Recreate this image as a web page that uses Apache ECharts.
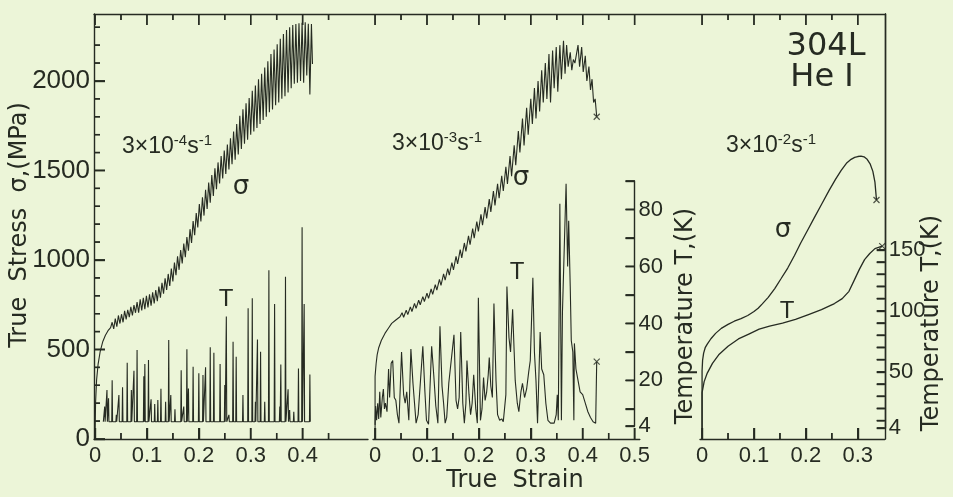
<!DOCTYPE html>
<html><head><meta charset="utf-8">
<script src="https://cdn.jsdelivr.net/npm/echarts@6/dist/echarts.min.js"></script>
<style>html,body{margin:0;padding:0;background:#ecf5d8;}#c{width:953px;height:497px;}</style>
</head><body><div id="c"></div>
<script>
// ---------- DATA ----------
const sigma1 = [[0,0],[0.001,200],[0.003,330],[0.006,420],[0.01,490],[0.015,545],[0.02,580],[0.025,605],[0.03,622],
[0.033,652],[0.036,615],[0.039,672],[0.042,628],[0.045,690],[0.048,645],[0.051,697],[0.054,652],[0.057,716],[0.060,668],
[0.063,722],[0.066,681],[0.069,738],[0.072,690],[0.075,748],[0.078,705],[0.081,765],[0.084,705],[0.087,780],[0.090,718],
[0.093,788],[0.096,725],[0.099,800],[0.102,735],[0.105,808],[0.108,745],[0.111,820],[0.114,757],[0.117,832],[0.120,770],
[0.123,852],[0.126,790],[0.129,872],[0.132,812],[0.135,898],[0.138,833],[0.141,922],[0.144,855],[0.147,952],[0.150,880],
[0.153,985],[0.156,915],[0.159,1020],[0.162,945],[0.165,1055],[0.168,980],[0.171,1092],[0.174,1015],[0.177,1128],[0.180,1052],
[0.183,1172],[0.186,1095],[0.189,1218],[0.192,1138],[0.195,1262],[0.198,1182],[0.201,1312],[0.204,1215],[0.207,1350],[0.210,1248],
[0.213,1392],[0.216,1285],[0.219,1432],[0.222,1320],[0.225,1475],[0.228,1358],[0.231,1512],[0.234,1395],[0.237,1545],[0.240,1428],
[0.243,1580],[0.246,1455],[0.249,1612],[0.252,1480],[0.255,1645],[0.258,1505],[0.261,1680],[0.264,1535],[0.267,1718],[0.270,1560],
[0.273,1760],[0.276,1590],[0.279,1805],[0.282,1620],[0.285,1842],[0.288,1650],[0.291,1875],[0.294,1672],[0.297,1905],[0.300,1700],
[0.303,1945],[0.306,1718],[0.309,1975],[0.312,1738],[0.315,2010],[0.318,1760],[0.321,2040],[0.324,1782],[0.327,2075],[0.330,1800],
[0.333,2110],[0.336,1825],[0.339,2150],[0.342,1840],[0.345,2175],[0.348,1865],[0.351,2205],[0.354,1880],[0.357,2235],[0.360,1900],
[0.363,2262],[0.366,1915],[0.369,2285],[0.372,1935],[0.375,2300],[0.378,1960],[0.381,2312],[0.384,1985],[0.387,2318],[0.390,1990],
[0.393,2322],[0.396,2000],[0.399,2325],[0.402,1990],[0.405,2328],[0.408,2030],[0.411,2320],[0.414,1925],[0.417,2318],[0.419,2095]];

const t1Strain = [0.0186,0.023,0.026,0.033,0.041,0.046,0.053,0.062,0.070,0.075,0.081,0.094,0.096,0.103,0.108,0.115,0.121,0.127,0.136,0.142,0.146,0.154,0.166,0.171,0.177,0.180,0.189,0.200,0.208,0.213,0.222,0.229,0.241,0.250,0.253,0.258,0.266,0.272,0.285,0.295,0.303,0.309,0.313,0.319,0.327,0.335,0.346,0.356,0.358,0.367,0.372,0.375,0.383,0.392,0.399,0.403,0.414];
const t1Peak = [10.8,16.6,13.7,20.1,7.9,14.9,17.6,26.2,16.6,23.4,30.7,21.5,25.8,27.2,13.4,11.7,13.1,17.1,12.5,34.2,14.9,9.9,23.6,10.8,30.9,17.2,24.8,22.5,21.9,24.6,31.6,29.7,25.8,18.4,42.4,7.9,33.6,28.3,14.9,45.3,48.8,12.5,34.4,30.1,12.5,58.7,46.8,10.8,25.6,56.4,16.9,9.6,9.0,24.2,73.8,46.8,22.1];
const t1Base = 5.5;
const t1Range = [0.016, 0.416];

const sigma2 = [[0,0],[0,350],[0.002,420],[0.004,470],[0.007,510],[0.012,550],[0.019,590],[0.026,620],[0.032,646],[0.04,665],[0.048,683],
[0.052,705],[0.055,680],[0.060,720],[0.063,695],[0.068,738],[0.071,712],[0.076,758],[0.079,730],[0.084,775],[0.087,750],
[0.092,795],[0.095,768],[0.100,815],[0.103,786],[0.108,838],[0.111,808],[0.116,862],[0.119,832],[0.124,892],[0.127,858],
[0.132,922],[0.135,888],[0.140,952],[0.143,915],[0.148,985],[0.151,945],[0.156,1020],[0.159,978],[0.164,1058],[0.167,1012],
[0.172,1095],[0.175,1048],[0.180,1135],[0.183,1085],[0.188,1175],[0.191,1122],[0.196,1215],[0.199,1160],[0.204,1255],[0.207,1195],
[0.212,1295],[0.215,1232],[0.220,1340],[0.223,1268],[0.228,1385],[0.231,1305],[0.236,1425],[0.239,1345],[0.244,1470],[0.247,1385],
[0.252,1520],[0.255,1425],[0.260,1580],[0.263,1468],[0.268,1640],[0.271,1530],[0.276,1720],[0.279,1600],[0.284,1790],[0.287,1640],
[0.292,1850],[0.295,1700],[0.300,1900],[0.303,1760],[0.307,1960],[0.310,1790],[0.314,2000],[0.317,1830],[0.321,2060],[0.324,1880],
[0.328,2100],[0.331,1900],[0.335,2150],[0.338,1880],[0.342,2170],[0.345,1960],[0.349,2190],[0.352,1940],[0.356,2200],[0.359,2010],
[0.363,2225],[0.366,2040],[0.369,2200],[0.372,2080],[0.376,2160],[0.379,2060],[0.382,2120],[0.385,2100],[0.388,2110],[0.391,2200],
[0.394,2080],[0.398,2190],[0.401,2050],[0.405,2140],[0.408,2000],[0.412,2080],[0.415,1950],[0.418,2010],[0.421,1880],[0.424,1900],[0.427,1800]];

const temp2 = [[0,4.4],[0.001,11],[0.003,6],[0.005,12],[0.007,6.5],[0.009,16],[0.011,7],[0.014,14],[0.016,17],[0.018,10],[0.02,12],[0.023,9],
[0.026,24],[0.028,14],[0.031,26],[0.034,27],[0.037,14],[0.040,13],[0.043,8],[0.046,5],
[0.051,30],[0.055,15],[0.058,12],[0.061,16],[0.065,6],[0.069,31],[0.073,19],[0.076,12],[0.079,5],[0.083,8],
[0.092,32],[0.096,16],[0.099,6],[0.103,4.6],[0.109,32],[0.113,22],[0.117,11],[0.121,5],
[0.125,39],[0.129,18],[0.132,12],[0.135,5],[0.138,7],[0.142,19],[0.152,36],[0.156,13],[0.159,10],[0.162,14],
[0.165,37],[0.169,12],[0.172,5],[0.175,12],[0.177,27],[0.181,15],[0.184,8],[0.187,12],[0.19,22],[0.194,10],[0.197,5],
[0.199,49],[0.203,6],[0.206,10],[0.209,21],[0.212,13],[0.215,16],[0.218,22],[0.22,28],[0.223,18],[0.226,14],
[0.229,47],[0.233,20],[0.236,8],[0.24,6],[0.244,6.5],[0.247,5.5],[0.25,6],[0.252,15],
[0.254,53],[0.258,35],[0.261,30],[0.265,45],[0.268,30],[0.270,20],[0.274,12],[0.277,9],[0.281,16],[0.284,19],[0.288,14],[0.292,17],[0.296,23],[0.299,27],
[0.304,56],[0.307,30],[0.31,20],[0.313,5],[0.318,37],[0.321,24],[0.325,22],[0.329,12],[0.333,6],[0.338,5],[0.345,5],[0.349,8],[0.351,15],[0.353,6],
[0.356,82],[0.359,6],[0.361,44],[0.365,70],[0.368,89],[0.371,60],[0.373,76],[0.376,53],[0.378,34],[0.381,30],[0.383,6],[0.384,33],
[0.387,24],[0.391,20],[0.395,16],[0.40,15],[0.405,12],[0.41,9],[0.415,7],[0.42,5.5],[0.425,5],[0.427,26.6]];

const sigma3 = [[0,0],[0,380],[0.001,440],[0.003,480],[0.006,510],[0.01,530],[0.017,560],[0.026,590],[0.037,618],[0.05,640],[0.062,658],
[0.075,672],[0.088,690],[0.1,712],[0.108,730],[0.116,755],[0.127,790],[0.14,840],[0.152,895],[0.165,955],[0.178,1025],[0.19,1095],
[0.203,1165],[0.216,1235],[0.23,1310],[0.245,1390],[0.257,1450],[0.268,1500],[0.278,1540],[0.287,1562],[0.294,1573],[0.3,1578],
[0.306,1580],[0.312,1576],[0.318,1562],[0.324,1535],[0.329,1495],[0.333,1435],[0.336,1335]];
const temp3 = [[0,4],[0,33],[0.004,42],[0.01,49],[0.02,57],[0.032,64],[0.05,71],[0.07,77],[0.09,81],[0.11,85],[0.13,87.5],[0.155,90],
[0.18,93],[0.205,97],[0.23,101],[0.255,106],[0.27,110],[0.283,116],[0.293,125],[0.303,134],[0.313,142],[0.323,147],[0.333,151],[0.34,152],[0.347,153]];

const strainLong1 = [0,0.1,0.2,0.3,0.4], strainShort1 = [0.05,0.15,0.25,0.35,0.45];
const strainLong2 = [0,0.1,0.2,0.3,0.4,0.5], strainShort2 = [0.05,0.15,0.25,0.35,0.45];
const strainLong3 = [0,0.1,0.2,0.3], strainShort3 = [0.05,0.15,0.25];
const stressLabels = [0,500,1000,1500,2000];
const stressMinor = [100,200,300,400,600,700,800,900,1100,1200,1300,1400,1600,1700,1800,1900,2100,2200,2300];
const temp2Ticks = [4,10,20,30,40,50,60,70,80,90], temp2Labels = [4,20,40,60,80];
const temp3Ticks = [4,10,20,30,40,50,60,70,80,90,100,110,120,130,140,150], temp3Labels = [4,50,100,150];

// ---------- CHART ----------
const INK = '#262b22';
const LF = 'Liberation Sans', DF = 'DejaVu Sans';
const t1Data = [[t1Range[0], t1Base]];
t1Strain.forEach((s, i) => { t1Data.push([s - 0.0008, t1Base], [s, t1Peak[i]], [s + 0.0008, t1Base]); });
t1Data.push([t1Range[1], t1Base]);

const line = { color: INK, width: 1.4 };
const plain = v => String(v);
const S_MAX = 2374;
const P1 = [-0.002, 0.526], P2 = [-0.004, 0.51], P2T = [-0.004, 0.5], P3 = [-0.004, 0.352];
const GRIDS = [
  [94, 14, 790.8, 425], [94, 14, 274, 425], [94, 181, 274, 245], [373, 14, 266.8, 425],
  [373, 181, 261.6, 245], [700, 14, 184.8, 425], [700, 14, 184.8, 414]
];
const tk = (len, vals) => ({ show: true, inside: true, length: len, customValues: vals, lineStyle: line });

function xMain(grid, ext, labV) {
  return { type: 'value', gridIndex: grid, min: ext[0], max: ext[1], position: 'bottom', splitLine: { show: false },
    axisLine: { show: true, onZero: false, lineStyle: line }, axisTick: tk(11, labV),
    axisLabel: { show: true, customValues: labV, margin: 6, color: INK, fontSize: 22, fontFamily: LF,
      formatter: v => (v === 0 ? '0' : String(v)) } };
}
const hiddenX = (grid, ext) => ({ type: 'value', gridIndex: grid, min: ext[0], max: ext[1], show: false });
const hiddenY = (grid, min, max) => ({ type: 'value', gridIndex: grid, min, max, show: false });
const G = g => ({ left: g[0], top: g[1], width: g[2], height: g[3], containLabel: false, outerBoundsMode: 'none' });

const xAxis = [
  { type: 'value', gridIndex: 0, position: 'top', min: 0, max: 1, axisLine: { show: true, onZero: false, lineStyle: line },
    axisTick: { show: false }, axisLabel: { show: false }, splitLine: { show: false } },
  xMain(1, P1, strainLong1), hiddenX(2, P1), xMain(3, P2, strainLong2), hiddenX(4, P2T), xMain(5, P3, strainLong3), hiddenX(6, P3)
];
const yAxis = [
  { type: 'value', gridIndex: 0, position: 'right', min: 0, max: 1, axisLine: { show: true, onZero: false, lineStyle: line },
    axisTick: { show: false }, axisLabel: { show: false }, splitLine: { show: false } },
  { type: 'value', gridIndex: 1, position: 'left', min: 0, max: S_MAX, splitLine: { show: false },
    axisLine: { show: true, onZero: false, lineStyle: line }, axisTick: tk(11, stressLabels),
    axisLabel: { show: true, customValues: stressLabels, margin: 4, color: INK, fontSize: 26, fontFamily: LF, formatter: plain } },
  hiddenY(2, 4, 90),
  hiddenY(3, 0, S_MAX),
  { type: 'value', gridIndex: 4, position: 'right', min: 4, max: 90, splitLine: { show: false },
    axisLine: { show: true, onZero: false, lineStyle: line }, axisTick: tk(9, temp2Ticks),
    axisLabel: { show: true, customValues: temp2Labels, margin: 4, color: INK, fontSize: 22, fontFamily: LF, formatter: plain } },
  hiddenY(5, 0, S_MAX),
  { type: 'value', gridIndex: 6, position: 'right', min: 4, max: 343.3, splitLine: { show: false },
    axisLine: { show: true, onZero: false, lineStyle: line }, axisTick: tk(8, temp3Ticks),
    axisLabel: { show: true, customValues: temp3Labels, margin: 4, color: INK, fontSize: 22, fontFamily: LF, formatter: plain } }
];

const ln = (data, xi, yi, w) => ({ type: 'line', data, xAxisIndex: xi, yAxisIndex: yi, showSymbol: false, symbol: 'none',
  lineStyle: { color: INK, width: w }, animation: false, silent: true, clip: false });
const endMark = (arr, xi, yi) => ({ type: 'scatter', xAxisIndex: xi, yAxisIndex: yi, data: [arr[arr.length - 1]],
  symbol: 'path://M0 0L10 10M10 0L0 10', symbolSize: 6, itemStyle: { color: 'none', borderColor: INK, borderWidth: 1.2 },
  animation: false, silent: true, clip: false });

// Tick specification: [values, xAxisIndex, yAxisIndex, gridIndex, fixed coord on the other axis, orientation, length px, direction]
const tickSpecs = [
  [strainLong1, 1, 1, 1, 0, 'x', 11, -1], [strainShort1, 1, 1, 1, 0, 'x', 6, -1],
  [strainLong1, 1, 1, 1, S_MAX, 'x', 11, 1], [strainShort1, 1, 1, 1, S_MAX, 'x', 6, 1],
  [strainLong2, 3, 3, 3, 0, 'x', 11, -1], [strainShort2, 3, 3, 3, 0, 'x', 6, -1],
  [strainLong2, 3, 3, 3, S_MAX, 'x', 11, 1], [strainShort2, 3, 3, 3, S_MAX, 'x', 6, 1],
  [strainLong3, 5, 5, 5, 0, 'x', 11, -1], [strainShort3, 5, 5, 5, 0, 'x', 6, -1],
  [strainLong3, 5, 5, 5, S_MAX, 'x', 11, 1], [strainShort3, 5, 5, 5, S_MAX, 'x', 6, 1],
  [stressLabels, 1, 1, 1, P1[0], 'y', 11, 1], [stressMinor, 1, 1, 1, P1[0], 'y', 6, 1],
  [temp2Ticks, 4, 4, 4, P2T[1], 'y', 9, -1],
  [temp3Ticks, 6, 6, 6, P3[1], 'y', 8, -1]
];
const axisExt = (list, i) => [list[i].min, list[i].max];

// tick marks as a custom series (library scales via api.coord)
const tickSeries = tickSpecs.map(sp => {
  const [vals, xi, yi, , fixed, ori, len, dir] = sp;
  return { type: 'custom', xAxisIndex: xi, yAxisIndex: yi, silent: true, animation: false, clip: false, z: 10,
    data: vals.map(v => (ori === 'x' ? [v, fixed] : [fixed, v])),
    renderItem: (params, api) => {
      const p = api.coord([api.value(0), api.value(1)]);
      const q = ori === 'x' ? [p[0], p[1] + dir * len] : [p[0] + dir * len, p[1]];
      return { type: 'line', shape: { x1: p[0], y1: p[1], x2: q[0], y2: q[1] }, style: { stroke: INK, lineWidth: 1.4 } };
    } };
});

function rate(x, y, e) {
  return { type: 'text', x, y, style: { text: '{a|3×10}{b|-' + e + '}{a|s}{b|-1}', align: 'center', verticalAlign: 'middle', fill: INK,
    rich: { a: { fontSize: 23, fontFamily: LF, fill: INK, lineHeight: 25, verticalAlign: 'bottom' },
            b: { fontSize: 15, fontFamily: LF, fill: INK, lineHeight: 15, verticalAlign: 'top' } } } };
}
const txt = (x, y, t, size, fam, rot) => ({ type: 'text', x, y, rotation: rot || 0,
  style: { text: t, fontSize: size, fontFamily: fam || DF, fill: INK, align: 'center', verticalAlign: 'middle' } });

const chart = echarts.init(document.getElementById('c'), null, { renderer: 'canvas' });
chart.setOption({
  backgroundColor: '#ecf5d8',
  animation: false,
  grid: GRIDS.map(G),
  xAxis, yAxis,
  series: [
    ln(t1Data, 2, 2, 1.1),
    ln(sigma1, 1, 1, 1.1),
    ln(sigma2, 3, 3, 1.1),
    ln(temp2, 4, 4, 1.1),
    ln(sigma3, 5, 5, 1.3),
    ln(temp3, 6, 6, 1.3),
    endMark(sigma2, 3, 3), endMark(temp2, 4, 4), endMark(sigma3, 5, 5), endMark(temp3, 6, 6)
  ].concat(tickSeries),
  graphic: [
    txt(20, 225, 'True  Stress  σ,(MPa)', 24, DF, Math.PI / 2),
    txt(686, 316, 'Temperature T,(K)', 24, DF, Math.PI / 2),
    txt(932, 323, 'Temperature T,(K)', 24, DF, Math.PI / 2),
    txt(515, 481, 'True  Strain', 24, DF),
    rate(167, 146, 4), rate(437, 143, 3), rate(771, 145, 2),
    txt(241, 187, 'σ', 26, DF), txt(521, 178, 'σ', 26, DF), txt(783, 230, 'σ', 26, DF),
    txt(226, 299, 'T', 24, LF), txt(517, 272, 'T', 24, LF), txt(787, 311, 'T', 24, LF),
    txt(826, 47, '304L', 32, DF), txt(822, 78, 'He Ⅰ', 32, DF)
  ]
});

// Also place the same tick marks directly on a top zrender layer, positioned by the axes' scales
try {
  const zr = chart.getZr();
  tickSpecs.forEach(sp => {
    const [vals, xi, yi, gi, fixed, ori, len, dir] = sp;
    const xe = axisExt(xAxis, xi), ye = axisExt(yAxis, yi), g = GRIDS[gi];
    vals.forEach(v => {
      const pt = ori === 'x' ? [v, fixed] : [fixed, v];
      let p = null;
      try { p = chart.convertToPixel({ gridIndex: gi }, pt); } catch (e) { p = null; }
      if (!p || !isFinite(p[0]) || !isFinite(p[1])) {
        p = [g[0] + (pt[0] - xe[0]) / (xe[1] - xe[0]) * g[2], g[1] + g[3] - (pt[1] - ye[0]) / (ye[1] - ye[0]) * g[3]];
      }
      const q = ori === 'x' ? [p[0], p[1] + dir * len] : [p[0] + dir * len, p[1]];
      zr.add(new echarts.graphic.Line({ shape: { x1: p[0], y1: p[1], x2: q[0], y2: q[1] },
        style: { stroke: INK, lineWidth: 1.4 }, z: 100, zlevel: 3, silent: true }));
    });
  });
} catch (e) { /* ignore */ }
</script></body></html>
